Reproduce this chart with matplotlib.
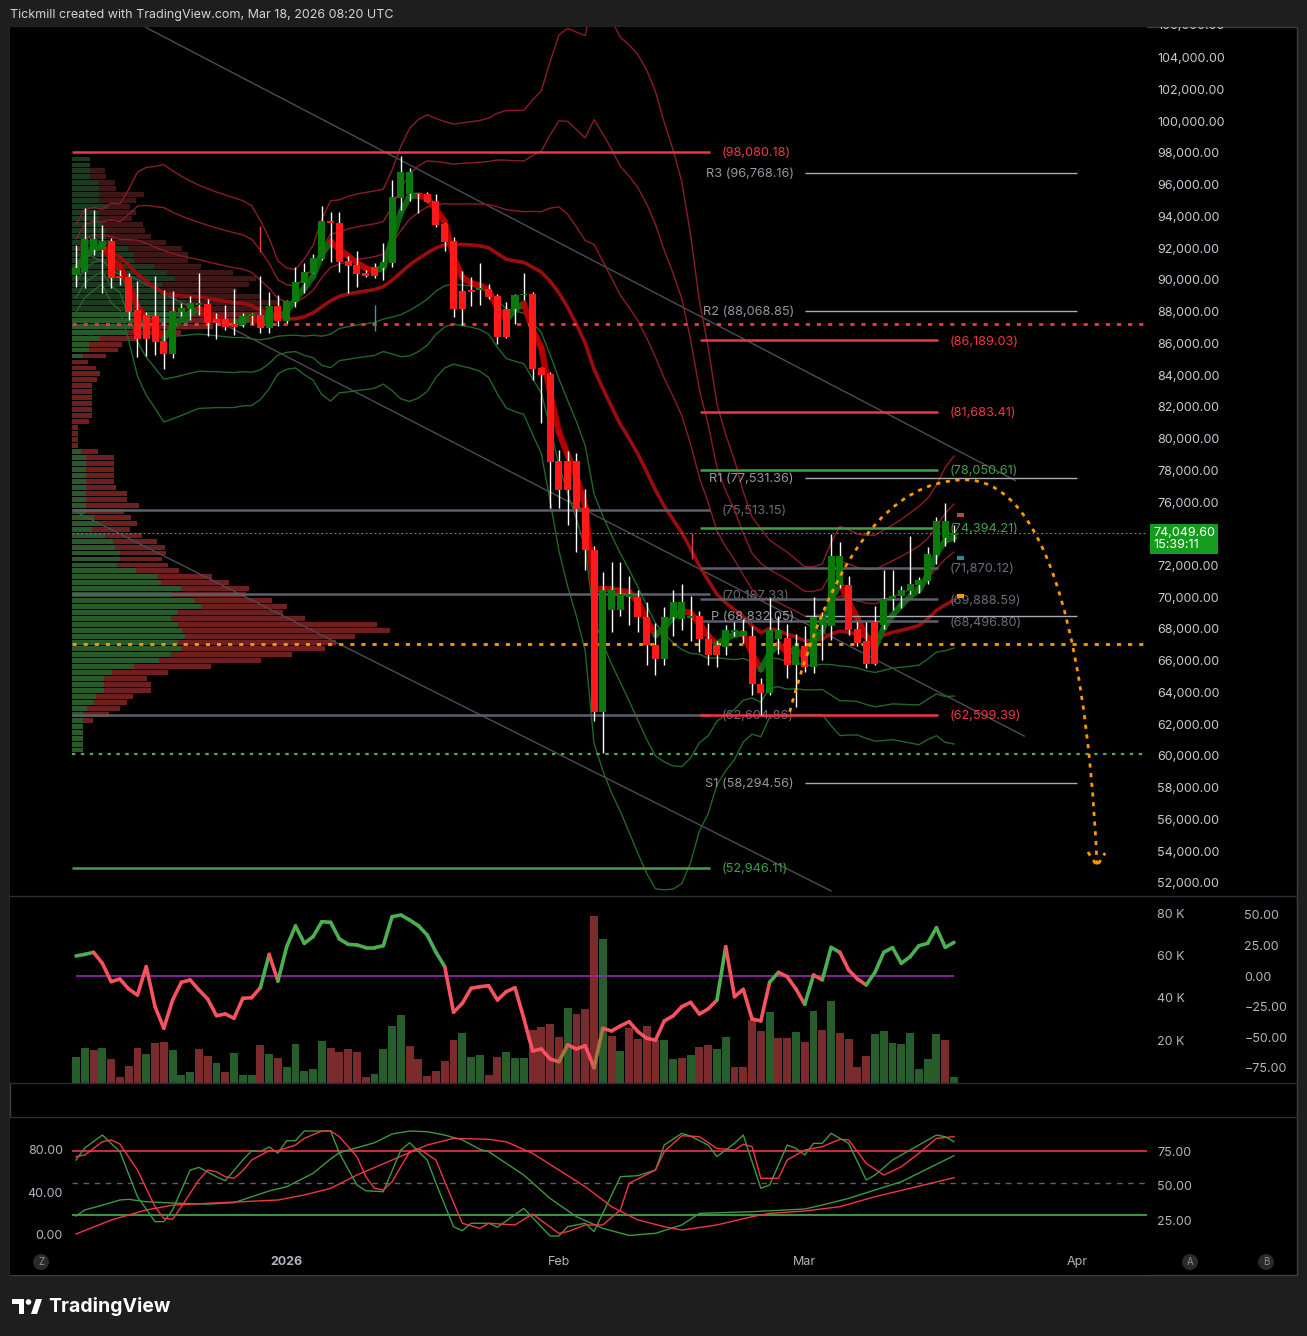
import numpy as np
import pandas as pd
import matplotlib
matplotlib.use("Agg")
import matplotlib.pyplot as plt
from matplotlib.collections import LineCollection
from matplotlib.patches import Rectangle, PathPatch, Polygon, Circle
from matplotlib.path import Path
from matplotlib.lines import Line2D
from matplotlib.transforms import Affine2D

plt.rcParams['font.family'] = ['Inter', 'DejaVu Sans']

# daily candles, 8 Dec 2025 .. 18 Mar 2026
dates = pd.date_range('2025-12-08', periods=101, freq='D')
opens = [90310, 90520, 91890, 91890, 92460, 90250, 90190, 88110, 87790, 87730,
         86160, 85360, 87970, 88190, 88450, 88490, 87540, 87540, 87230, 87160,
         87750, 87790, 87000, 88360, 87420, 88610, 89830, 90460, 91340, 93720,
         93570, 91200, 90920, 90440, 90820, 90780, 91090, 95190, 95440, 95500,
         95420, 94980, 93530, 92460, 89310, 89370, 89370, 89430, 88990, 88170,
         88170, 89050, 89120, 84460, 84080, 78590, 78590, 78590, 75610, 72990,
         62740, 69170, 69170, 70010, 70010, 68750, 67000, 66120, 68750, 68640,
         68660, 68830, 67360, 66960, 66850, 67840, 67530, 67570, 64540, 63960,
         67380, 67440, 65740, 66900, 65620, 68220, 68200, 70780, 70780, 67990,
         67210, 68410, 68260, 69880, 70050, 70420, 70780, 71050, 72670, 73760,
         73930]
highs = [92200, 94510, 94410, 93460, 92620, 90630, 90420, 89960, 87970, 90250,
         89370, 89310, 88530, 88990, 90420, 88780, 87940, 88420, 89430, 87900,
         87900, 90250, 89240, 89050, 88740, 90840, 91090, 91620, 94660, 94300,
         94300, 91510, 91830, 90630, 91050, 92310, 96300, 97810, 97030, 95500,
         95560, 95420, 93570, 92730, 90570, 90210, 91050, 89750, 89120, 88630,
         89100, 90420, 89270, 84540, 84200, 79290, 79220, 79080, 76810, 73200,
         71620, 72190, 72190, 71310, 70430, 69730, 68370, 69380, 70470, 70850,
         70050, 69140, 68370, 67210, 68220, 68470, 68620, 68200, 64900, 69940,
         68790, 68300, 67690, 68160, 70000, 69040, 73990, 73510, 71350, 68410,
         68470, 69460, 71730, 71730, 70700, 73870, 71260, 73150, 75040, 75930,
         74560]
lows = [89580, 89470, 91570, 89200, 89470, 89680, 87480, 85130, 85210, 85270,
        84370, 85060, 87750, 87480, 87790, 86490, 86280, 86850, 86530, 87060,
        87230, 86680, 86680, 87100, 87270, 88280, 89160, 90420, 91260, 91150,
        90520, 89160, 89560, 90210, 90100, 90000, 90840, 94410, 94980, 94200,
        94930, 93360, 91850, 87690, 87160, 88380, 88420, 88820, 85950, 86370,
        87210, 88740, 83700, 80970, 75610, 75610, 74560, 72820, 71730, 62170,
        60180, 67840, 68790, 68260, 67840, 65700, 65070, 65740, 67530, 67950,
        67210, 66520, 65740, 65590, 66370, 67570, 67110, 63850, 62590, 63850,
        66430, 64900, 63070, 65260, 65220, 66060, 67320, 70570, 67630, 66900,
        65530, 65740, 67990, 69210, 69300, 70210, 70260, 70840, 72100, 73240,
        73510]
closes = [90730, 92580, 92580, 92460, 90150, 90150, 88000, 86280, 86280, 86110,
          85360, 88050, 88240, 88550, 88550, 87310, 87310, 87060, 87060, 87730,
          87790, 87000, 88360, 87420, 88680, 89870, 90500, 91390, 93720, 93610,
          91150, 90900, 90400, 90270, 90270, 91130, 95230, 96800, 96800, 95400,
          94930, 93460, 92410, 88190, 88190, 89260, 89430, 88910, 86430, 86430,
          89050, 89120, 84410, 84010, 78550, 76770, 76770, 75570, 72950, 62740,
          70470, 70470, 70220, 70220, 68750, 66960, 66120, 68750, 69730, 69730,
          68830, 67360, 66330, 66330, 67950, 67950, 67880, 64500, 63960, 67950,
          67950, 65740, 66900, 65620, 68740, 68790, 72610, 72610, 67950, 67110,
          65800, 65800, 69880, 70090, 70470, 70840, 71100, 72710, 74810, 74810,
          74050]
volume_k = [12.2, 16.5, 15.5, 16.5, 11.3, 2.9, 8.2, 16.5, 13.8, 18.9,
            19.3, 15.5, 3.9, 5.3, 16.0, 12.7, 9.5, 5.3, 14.1, 3.9,
            3.9, 18.0, 13.8, 11.9, 7.3, 18.5, 5.8, 6.7, 19.8, 16.5,
            14.6, 16.0, 14.6, 2.9, 4.3, 16.0, 26.8, 32.0, 17.4, 11.3,
            3.4, 5.8, 10.4, 20.3, 23.5, 12.2, 13.2, 3.9, 12.2, 14.6,
            11.9, 11.9, 24.9, 26.4, 27.8, 21.6, 35.3, 32.5, 34.8, 78.6,
            67.8, 22.1, 15.0, 25.9, 20.7, 26.8, 20.3, 20.3, 11.3, 11.9,
            13.2, 17.0, 18.0, 16.0, 21.6, 7.7, 7.7, 29.6, 24.5, 33.4,
            21.2, 21.2, 24.0, 19.3, 33.9, 24.9, 38.6, 23.5, 20.7, 7.7,
            12.7, 23.0, 24.5, 18.9, 18.5, 23.5, 6.7, 11.5, 23.0, 20.3,
            2.9]
volume_dir = ("ggrgrrrrgr" "rgggrrgrgg" "grgrgggggr" "rrrrggggrr" "rrrrgggrrg"
              "ggrrrrgrrr" "grgrrrrggr" "grrggrrrrg" "rrgrgrgrrr" "rggggggggrg")
osc = [16.4, 17.7, 19.4, 10.4, -4.6, -2.4, -10.6, -15.5, 7.7, -25.0,
       -42.7, -19.6, -5.1, -3.2, -11.4, -18.8, -32.4, -31.0, -34.5, -18.2,
       -17.7, -9.5, 17.7, -4.1, 24.0, 40.9, 26.7, 32.2, 44.4, 43.9,
       30.3, 25.9, 25.4, 23.2, 23.2, 24.8, 48.5, 49.9, 45.8, 41.1,
       33.5, 19.4, 7.7, -29.6, -22.3, -10.0, -8.7, -7.9, -19.6, -12.8,
       -9.5, -34.5, -61.2, -59.6, -67.8, -70.0, -56.3, -59.6, -56.9, -74.9,
       -42.7, -44.9, -40.8, -37.3, -45.4, -50.9, -52.3, -36.7, -32.6, -25.0,
       -21.5, -31.0, -26.9, -19.6, 24.0, -16.9, -10.9, -35.1, -36.7, -5.1,
       3.0, -0.5, -10.6, -23.1, 0.8, -3.2, 23.4, 19.4, 4.9, -2.4,
       -7.3, 3.0, 19.4, 23.2, 10.4, 15.8, 24.8, 26.7, 39.5, 23.4,
       27.5]
# colour of each oscillator segment (g green, r red, b brown)
osc_dir = ("gg" "rrrrrrrrrrrrrrrrrrr" "g" "r" "ggggggggggggggggggg" "rrrrrrrrrrrrr"
           "b" "rrr" "b" "rrrrrrrrrrrrr" "g" "rrrrr" "g" "rrr" "g" "r" "gg" "rrr"
           "gggggggggg")

# stochastic lines, read at the candles where their vertices could be seen
stoch_k_idx = [0, 1, 3, 5, 7, 9, 10, 11, 13, 14, 16, 17, 19, 20, 21, 22, 23, 24, 25, 26,
               29, 30, 32, 33, 35, 37, 38, 40, 41, 43, 44, 45, 47, 48, 51, 54, 55, 56, 58, 59,
               62, 64, 66, 67, 69, 70, 72, 73, 75, 76, 78, 79, 81, 82, 83, 84, 85, 86, 88, 90,
               91, 93, 95, 98, 99, 100]
stoch_k = [71.5, 82.8, 95, 79.4, 37, 13.5, 13.5, 24.5, 62, 64.6, 55.8, 52, 71.5, 80.3, 79.4,
           83.8, 78, 89.7, 89.7, 98.8, 98.8, 78, 48, 42.6, 41.7, 80.9, 87.8, 71.5, 49.6, 8.8,
           5, 12, 12, 8.3, 26, 0, 0, 8.8, 12, 4.1, 55.8, 56.8, 62.1, 85.6, 96.6, 94, 85.6, 74.7,
           87.2, 95, 44.9, 48, 85.6, 82.5, 76.2, 87.2, 87.2, 96.6, 87.2, 52.7, 57.4, 71.5, 80.9,
           95, 93.5, 88.7]
stoch_d_idx = [0, 1, 3, 4, 5, 7, 9, 10, 11, 12, 14, 15, 16, 17, 18, 19, 20, 22, 23, 25,
               26, 28, 29, 30, 32, 33, 34, 35, 36, 38, 39, 41, 42, 44, 46, 47, 50, 52, 55, 56,
               58, 60, 62, 63, 66, 67, 69, 71, 73, 75, 76, 77, 78, 80, 81, 83, 85, 87, 88, 90,
               92, 94, 96, 98, 100]
stoch_d = [74.7, 76.2, 88.7, 90.4, 86.6, 62.1, 27.6, 16.6, 15.7, 27.6, 52.7, 62.1, 60.5, 55.8,
           54.3, 61.5, 71.5, 80.3, 80.3, 85.6, 91.9, 98.8, 98.8, 93.5, 74.7, 55.8, 44.9, 43.3,
           51.1, 79.4, 82.5, 71.5, 51.1, 12, 7.2, 12, 10.4, 20.7, 2.5, 4.1, 10.4, 10.4, 24.5,
           49.6, 62.1, 79.4, 94.4, 93.5, 82.5, 80.9, 86.3, 84.1, 54.3, 54.3, 71.5, 80.9, 84.1,
           91, 90.4, 68.4, 57.4, 65.2, 77.8, 91.9, 93.5]
slow_k_idx = [0, 1, 3, 5, 6, 8, 11, 15, 18, 22, 24, 27, 29, 30, 34, 36, 38, 40, 42, 44,
              46, 47, 51, 54, 57, 60, 63, 66, 69, 71, 77, 83, 85, 88, 91, 94, 100]
slow_k = [18.8, 24.5, 29, 33.9, 34.5, 32.3, 31, 30, 31.4, 42.4, 46.4, 59, 72.5, 78.4, 87.8,
          96, 98.8, 98.2, 95, 90.4, 81.6, 79.4, 57.4, 35.3, 18.2, 7.2, 0.5, 2.5, 10.4, 21.3,
          22.9, 25.4, 29.2, 35.4, 43.3, 51.1, 75.6]
slow_d_idx = [0, 4, 8, 11, 15, 19, 23, 26, 29, 32, 36, 40, 43, 47, 49, 52, 58, 61, 64, 67,
              69, 73, 77, 79, 83, 87, 91, 95, 100]
slow_d = [1.9, 15, 24.5, 29, 30.8, 32.3, 33.9, 38.6, 44.9, 57.4, 71.5, 85.6, 91.9, 91, 88.7,
          77.8, 46.4, 27.6, 15.1, 8.8, 5.6, 10.4, 18.2, 21.3, 23.5, 27.6, 37, 44.9, 54.9]
last_price = 74049.60

# drawn levels: (price, colour key)
left_levels = [(98080.18, 'red'), (75513.15, 'grey'), (70187.33, 'grey'),
               (62604.86, 'grey'), (52946.11, 'green')]
right_levels = [(86189.03, 'red'), (81683.41, 'red'), (78050.61, 'green'),
                (74394.21, 'green'), (71870.12, 'grey'), (69888.59, 'grey'),
                (68496.80, 'grey'), (62599.39, 'red')]
pivot_names = ['R3', 'R2', 'R1', 'P', 'S1']
pivot_values = [96768.16, 88068.85, 77531.36, 68832.05, 58294.56]
dotted_levels = [(87227, '#f23645', 2.0), (67063, '#ff9800', 2.0),
                 (60137, '#4caf50', 1.6), (last_price, '#4caf50', 0.8)]
trendlines = [(('2025-12-16', 105900), ('2026-03-25', 77350)),
              (('2025-12-08', 92000), ('2026-03-26', 61250)),
              (('2025-12-08', 75380), ('2026-03-04', 51490))]
ticks_small = [('2025-12-29', 91760, 93400, '#e04050'),
               ('2026-01-11', 86780, 88420, '#26a69a'),
               ('2026-02-16 03:00', 72420, 74060, '#e04050')]
side_marks = [(75180, '#c2414b'), (72470, '#2a8a8a'), (70080, '#ff9800')]
arc_pts = [('2026-02-27 07:00', 62780), ('2026-03-06 07:00', 77400),
           ('2026-03-19 06:00', 77400), ('2026-03-27 05:00', 77400),
           ('2026-04-01 22:00', 69830), ('2026-04-03 07:00', 53140)]
arrow_pts = [('2026-04-02 06:00', 53940), ('2026-04-03 07:00', 53060),
             ('2026-04-04 05:00', 53880)]

COL = {'red': '#f23645', 'green': '#43a047', 'grey': '#5d606b'}
TXT = {'red': '#f23645', 'green': '#43a047', 'grey': '#6a6d78'}


def day(ts):
    return (pd.Timestamp(ts) - dates[0]) / pd.Timedelta(days=1)


x = np.array([day(d) for d in dates])
o, h, l, c = (np.array(v, dtype=float) for v in (opens, highs, lows, closes))
vol = np.array(volume_k)

W, H = 1307, 1336
fig = plt.figure(figsize=(W / 100, H / 100), dpi=100, facecolor='#1e1e1e')
px = Affine2D().scale(1 / W, -1 / H).translate(0, 1) + fig.transFigure


def add_ax(x0, y0, x1, y1):
    a = fig.add_axes([x0 / W, 1 - y1 / H, (x1 - x0) / W, (y1 - y0) / H])
    a.set_facecolor('black')
    for s in a.spines.values():
        s.set_visible(False)
    a.set_xticks([])
    return a


frame = Rectangle((10, 27), 1287, 1248, transform=px, fc='black', ec='#3b3e47', lw=1, zorder=-1)
fig.patches.append(frame)
clip_box = Rectangle((10 / W, 1 - 1275 / H), 1287 / W, 1248 / H, transform=fig.transFigure)
for yy in (896, 1083, 1117):
    fig.add_artist(Line2D([10, 1297], [yy, yy], transform=px, color='#2a2e39', lw=1))

PX_DAY, X_FIRST = 8.78, 76
XLIM = ((10 - X_FIRST) / PX_DAY, (1147 - X_FIRST) / PX_DAY)

# ---------------- main price pane ----------------
ax = add_ax(10, 27, 1147, 896)
ax.set_xlim(*XLIM)
ax.set_ylim(98000 - (896 - 153) * 63.03, 98000 + (153 - 27) * 63.03)

# volume profile, built from the candles
edges = np.linspace(l.min(), h.max(), 101)
buy = np.zeros(100)
sell = np.zeros(100)
for lo_, hi_, v, d_ in zip(l, h, vol, volume_dir):
    ov = np.clip(np.minimum(edges[1:], hi_) - np.maximum(edges[:-1], lo_), 0, None)
    share = v * ov / (hi_ - lo_)
    if d_ == 'g':
        buy += share
    else:
        sell += share
tot = buy + sell
poc = int(tot.argmax())
lo_i = hi_i = poc
while tot[lo_i:hi_i + 1].sum() < 0.7 * tot.sum():
    below = tot[lo_i - 1] if lo_i > 0 else -1
    above = tot[hi_i + 1] if hi_i < 99 else -1
    if above >= below:
        hi_i += 1
    else:
        lo_i -= 1
in_va = (np.arange(100) >= lo_i) & (np.arange(100) <= hi_i)
scale = 36.2 / tot.max()
centers = (edges[1:] + edges[:-1]) / 2
bh = (edges[1] - edges[0]) * 0.82
x_left = x[0] - 0.45
ax.barh(centers, buy * scale, height=bh, left=x_left,
        color=np.where(in_va, '#2a5a2c', '#1b3a1e'), zorder=1)
ax.barh(centers, sell * scale, height=bh, left=x_left + buy * scale,
        color=np.where(in_va, '#6e2020', '#3d1616'), zorder=1)

# trend lines
for (d0, p0), (d1, p1) in trendlines:
    ax.plot([day(d0), day(d1)], [p0, p1], color='#4a4d55', lw=1, zorder=2)

# bands around a 20 day mean
cs = pd.Series(c)
basis = cs.rolling(20, min_periods=1).mean()
sd = cs.rolling(20, min_periods=2).std(ddof=0).bfill()
for k in (1, 2, 3):
    ax.plot(x, basis + k * sd, color='#8c1c26', lw=1, zorder=3)
    ax.plot(x, basis - k * sd, color='#226628', lw=1, zorder=3)
ax.plot(x, basis, color='#9b0d0d', lw=2.6, zorder=3, solid_capstyle='round')

fast = cs.ewm(span=4, adjust=False).mean().values
segs = [[(x[i], fast[i]), (x[i + 1], fast[i + 1])] for i in range(len(x) - 1)]
fcol = ['#0f6e12' if c[i + 1] >= fast[i + 1] else '#c40000' for i in range(len(x) - 1)]
ax.add_collection(LineCollection(segs, colors=fcol, linewidths=4.5, alpha=0.9,
                                 capstyle='round', zorder=4))

# horizontal levels
x_l0, x_l1 = day('2025-12-07 13:00'), day('2026-02-18 05:00')
x_r0, x_r1 = day('2026-02-17 02:00'), day('2026-03-16 04:00')
x_ltxt, x_rtxt = day('2026-02-19 14:00'), day('2026-03-17 12:00')
for p, k in left_levels:
    ax.text(x_ltxt, p, f'({p:,.2f})', color=TXT[k], fontsize=9.2, va='center_baseline', zorder=2)
    ax.hlines(p, x_l0, x_l1, color=COL[k], lw=1.8, zorder=5)
for p, k in right_levels:
    ax.hlines(p, x_r0, x_r1, color=COL[k], lw=1.8, zorder=5)
    ax.text(x_rtxt, p, f'({p:,.2f})', color=TXT[k], fontsize=9.2, va='center_baseline', zorder=5)
for name, p in zip(pivot_names, pivot_values):
    ax.hlines(p, day('2026-03-01'), day('2026-04-01'), color='#a8abb3', lw=1, zorder=5)
    ax.text(day('2026-02-27 18:00'), p, f'{name} ({p:,.2f})', color='#9598a1',
            fontsize=9.2, va='center_baseline', ha='right', zorder=5)
for p, col, lw in dotted_levels:
    ax.hlines(p, x_l0, XLIM[1], color=col, lw=lw, linestyles=(0, (1.5, 2.5)), zorder=5)

for d_, p0, p1, col in ticks_small:
    ax.vlines(day(d_), p0, p1, color=col, lw=1, zorder=5)
for p, col in side_marks:
    ax.hlines(p, day('2026-03-18 08:00'), day('2026-03-19 02:00'), color=col, lw=3, zorder=5)

# candles
up = c >= o
ax.vlines(x, l, h, color='white', lw=1, zorder=6)
ax.bar(x, np.maximum(np.abs(c - o), 90), bottom=np.minimum(o, c), width=0.8,
       color=np.where(up, '#0b7a0b', '#ff1a1a'), zorder=7)

# projected path
verts = [(day(d_), p) for d_, p in arc_pts]
codes = [Path.MOVETO, Path.CURVE3, Path.CURVE3, Path.CURVE4, Path.CURVE4, Path.CURVE4]
ax.add_patch(PathPatch(Path(verts, codes), fill=False, ec='#ff9800', lw=2,
                       ls=(0, (1.5, 2)), zorder=8))
ax.plot([day(d_) for d_, _ in arrow_pts], [p for _, p in arrow_pts],
        color='#ff9800', lw=2, ls=(0, (1.5, 2)), zorder=8)

# price scale (74,000 sits under the last price tag)
ptk = [v for v in range(52000, 104001, 2000) if v != 74000]
ax.yaxis.tick_right()
ax.set_yticks(ptk)
ax.set_yticklabels([f'{v:,.2f}' for v in ptk])
ax.tick_params(axis='y', length=0, pad=7.5, labelsize=9, labelcolor='#c8cad0')
top_lab = ax.text((1157 - 10) / 1137, 106000, '106,000.00', transform=ax.get_yaxis_transform(),
                  color='#c8cad0', fontsize=9, va='center', clip_on=True)
top_lab.set_clip_path(clip_box)
ax.annotate(f'{last_price:,.2f}\n15:39:11', xy=(1.0, last_price),
            xycoords=ax.get_yaxis_transform(), xytext=(6, -6), textcoords='offset pixels',
            va='center', ha='left', color='white', fontsize=9, linespacing=1.05,
            bbox=dict(boxstyle='square,pad=0.25', fc='#169c1c', ec='none'))

# ---------------- volume + oscillator pane ----------------
axv = add_ax(10, 896, 1147, 1083)
axv.set_xlim(*XLIM)
axv.set_ylim(0, 88)
axv.bar(x, vol, width=0.9, color=['#275c2b' if d_ == 'g' else '#7b2b2b' for d_ in volume_dir], zorder=2)

axo = axv.twinx()
for s in axo.spines.values():
    s.set_visible(False)
axo.set_ylim(-87.4, 65.4)
axo.hlines(0, x[0], x[-1], color='#9c27b0', lw=1.2, zorder=2)
osegs = [[(x[i], osc[i]), (x[i + 1], osc[i + 1])] for i in range(len(x) - 1)]
ocmap = {'g': '#4caf50', 'r': '#f7525f', 'b': '#a07a3c'}
axo.add_collection(LineCollection(osegs, colors=[ocmap[k] for k in osc_dir],
                                  linewidths=2.6, capstyle='round', zorder=3))
otk = [-75, -50, -25, 0, 25, 50]
axo.set_yticks(otk)
axo.set_yticklabels([f'{v:.2f}'.replace('-', '\u2212') for v in otk])
axo.tick_params(axis='y', length=0, pad=70, labelsize=9, labelcolor='#b2b5be')

# twinx moves the host ticks to the left, so set them after it
axv.yaxis.tick_right()
axv.set_yticks([20, 40, 60, 80])
axv.set_yticklabels(['20 K', '40 K', '60 K', '80 K'])
axv.tick_params(axis='y', length=0, pad=7.5, labelsize=9, labelcolor='#b2b5be')

# ---------------- stochastic pane ----------------
axs = add_ax(10, 1117, 1147, 1275)
axs.set_xlim(*XLIM)
axs.set_ylim(-36.7, 112)
axs.set_yticks([])
axs.hlines(80, x[0] - 0.45, XLIM[1], color='#f23645', lw=1.2)
axs.hlines(50, x[0] - 0.45, XLIM[1], color='#5d606b', lw=1, linestyles=(0, (4, 4)))
axs.hlines(20, x[0] - 0.45, XLIM[1], color='#4caf50', lw=1.2)
axs.plot(x[slow_k_idx], slow_k, color='#3d9a40', lw=1)
axs.plot(x[slow_d_idx], slow_d, color='#f23645', lw=1)
axs.plot(x[stoch_k_idx], stoch_k, color='#3d9a40', lw=1)
axs.plot(x[stoch_d_idx], stoch_d, color='#f23645', lw=1)
for v in (80, 40, 0):
    axs.text((63 - 10) / 1137, v, f'{v:.2f}', transform=axs.get_yaxis_transform(),
             ha='right', va='center', color='#b2b5be', fontsize=9)
axs2 = axs.twinx()
for s in axs2.spines.values():
    s.set_visible(False)
axs2.set_ylim(-15.4, 100.7)
axs2.set_yticks([25, 50, 75])
axs2.set_yticklabels(['25.00', '50.00', '75.00'])
axs2.tick_params(axis='y', length=0, pad=7.5, labelsize=9, labelcolor='#b2b5be')

for d_, lab, wt in (('2026-01-01', '2026', 'bold'), ('2026-02-01', 'Feb', 'normal'),
                    ('2026-03-01', 'Mar', 'normal'), ('2026-04-01', 'Apr', 'normal')):
    axs.text(day(d_), (1275 - 1262) / 158, lab, transform=axs.get_xaxis_transform(),
             ha='center', va='center', color='#b2b5be', fontsize=9, fontweight=wt)

for cx, lab in ((41, 'Z'), (1190, 'A'), (1266, 'B')):
    fig.add_artist(Circle((cx, 1262), 8, transform=px, fc='#2a2a2c', ec='none'))
    fig.text(cx / W, 1 - 1262 / H, lab, ha='center', va='center', color='#8a8d95', fontsize=7)

# header and footer
fig.text(10 / W, 1 - 15 / H, 'Tickmill created with TradingView.com, Mar 18, 2026 08:20 UTC',
         color='#d1d4dc', fontsize=9, va='center')
fig.add_artist(Polygon([(12, 1299), (24, 1299), (24, 1314), (19, 1314), (19, 1304), (12, 1304)],
                       closed=True, transform=px, fc='white', ec='none'))
fig.add_artist(Circle((28.5, 1302), 2.8, transform=px, fc='white', ec='none'))
fig.add_artist(Polygon([(31, 1314), (36, 1299), (42, 1299), (37, 1314)],
                       closed=True, transform=px, fc='white', ec='none'))
fig.text(48 / W, 1 - 1306 / H, 'TradingView', color='white', fontsize=14,
         fontweight='bold', va='center')

fig.savefig('out.png', dpi=100, facecolor=fig.get_facecolor())
